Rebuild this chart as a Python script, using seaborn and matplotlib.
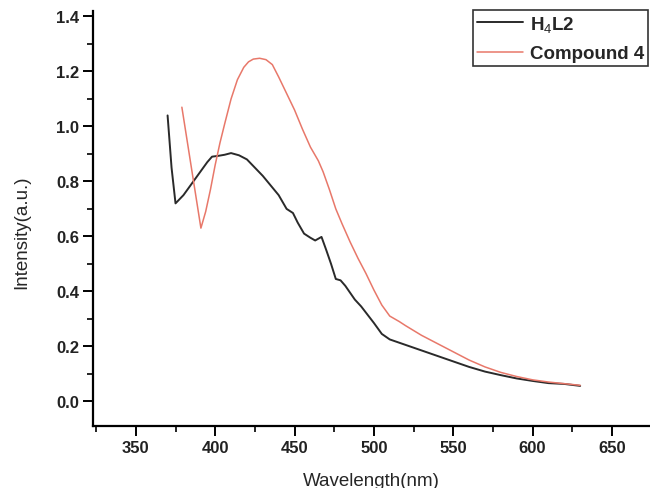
import matplotlib
matplotlib.use("Agg")
import matplotlib.pyplot as plt
import seaborn as sns
import pandas as pd
from matplotlib.ticker import MultipleLocator

# H4L2 spectrum
h4l2_wl = [370, 372.5, 375, 380, 385, 390, 395, 398, 402, 406, 410, 415, 420, 425, 430, 435, 440,
           445, 449, 452, 456, 460, 463, 467, 470, 473, 476, 479, 482, 485, 488, 492, 496,
           500, 505, 510, 520, 530, 540, 550, 560, 570, 580, 590, 600, 610, 620, 630]
h4l2_int = [1.04, 0.85, 0.72, 0.75, 0.79, 0.83, 0.87, 0.89, 0.893, 0.897, 0.903, 0.895, 0.88, 0.85, 0.82, 0.785, 0.75,
            0.70, 0.685, 0.65, 0.61, 0.595, 0.585, 0.598, 0.55, 0.50, 0.445, 0.44, 0.42, 0.395, 0.37, 0.345, 0.315,
            0.285, 0.245, 0.225, 0.205, 0.185, 0.165, 0.145, 0.125, 0.108, 0.095, 0.083, 0.074, 0.066, 0.063, 0.056]

# Compound 4 spectrum
c4_wl = [379, 382, 385, 388, 391, 394, 397, 400, 403, 406, 410, 414, 418, 421, 424, 428, 432, 436, 440,
         445, 450, 455, 460, 465, 468, 472, 476, 480, 485, 490, 495, 500, 505, 510, 516, 520, 530, 540,
         550, 560, 570, 580, 590, 600, 610, 620, 630]
c4_int = [1.07, 0.96, 0.85, 0.74, 0.63, 0.69, 0.77, 0.86, 0.94, 1.01, 1.10, 1.17, 1.215, 1.235, 1.245, 1.248, 1.243, 1.225, 1.18,
          1.12, 1.06, 0.99, 0.925, 0.875, 0.835, 0.77, 0.70, 0.645, 0.58, 0.52, 0.465, 0.405, 0.35, 0.31, 0.29, 0.275, 0.24, 0.21,
          0.18, 0.15, 0.125, 0.105, 0.09, 0.078, 0.07, 0.064, 0.058]

series_labels = ["H$_4$L2", "Compound 4"]

df = pd.concat([
    pd.DataFrame({"wl": h4l2_wl, "I": h4l2_int, "s": series_labels[0]}),
    pd.DataFrame({"wl": c4_wl, "I": c4_int, "s": series_labels[1]}),
])

sns.set_style("ticks")
plt.rcParams["font.family"] = ["Liberation Sans", "DejaVu Sans"]
plt.rcParams["mathtext.fontset"] = "custom"
plt.rcParams["mathtext.rm"] = "Liberation Sans"
plt.rcParams["mathtext.it"] = "Liberation Sans"
plt.rcParams["mathtext.bf"] = "Liberation Sans:bold"

fig = plt.figure(figsize=(6.5, 4.89), dpi=100)
ax = fig.add_axes([93 / 650, 1 - 427 / 489, 1 - 93 / 650, (427 - 12) / 489])

colors = ["#2a2a2a", "#e8786a"]
widths = [1.4, 1.1]
for lab, col, lw in zip(series_labels, colors, widths):
    sub = df[df["s"] == lab]
    sns.lineplot(data=sub, x="wl", y="I", ax=ax, color=col, linewidth=lw, label=lab,
                 sort=False, estimator=None)

ax.set_xlim(323, 674)
ax.set_ylim(-0.09, 1.42)
ax.xaxis.set_major_locator(MultipleLocator(50))
ax.xaxis.set_minor_locator(MultipleLocator(25))
ax.yaxis.set_major_locator(MultipleLocator(0.2))
ax.yaxis.set_minor_locator(MultipleLocator(0.1))
ax.yaxis.set_major_formatter(matplotlib.ticker.FormatStrFormatter("%.1f"))

for side in ["top", "right"]:
    ax.spines[side].set_visible(False)
for side in ["left", "bottom"]:
    ax.spines[side].set_linewidth(1.6)
    ax.spines[side].set_color("black")

ax.tick_params(which="major", direction="out", length=7, width=1.4, colors="black",
               labelsize=12, pad=3)
ax.tick_params(which="minor", direction="out", length=4, width=1.2, colors="black")
for t in ax.get_xticklabels() + ax.get_yticklabels():
    t.set_fontweight("bold")
    t.set_color("#222222")

ax.set_xlabel("Wavelength(nm)", fontsize=13.5)
ax.set_ylabel("Intensity(a.u.)", fontsize=13.5)
ax.xaxis.set_label_coords(0.5, -(473 - 427) / 415)
ax.yaxis.set_label_coords((30 - 93) / 557, 0.47)

leg = ax.legend(loc="upper right", bbox_to_anchor=(1.0 - 2 / 557, 1.003), borderaxespad=0,
                frameon=True, fancybox=False, edgecolor="black", fontsize=13.5,
                handlelength=2.5, handletextpad=0.35, borderpad=0.2, labelspacing=0.62)
leg.get_frame().set_linewidth(1.2)
for t in leg.get_texts():
    t.set_fontweight("bold")

fig.savefig("out.png", dpi=100)
